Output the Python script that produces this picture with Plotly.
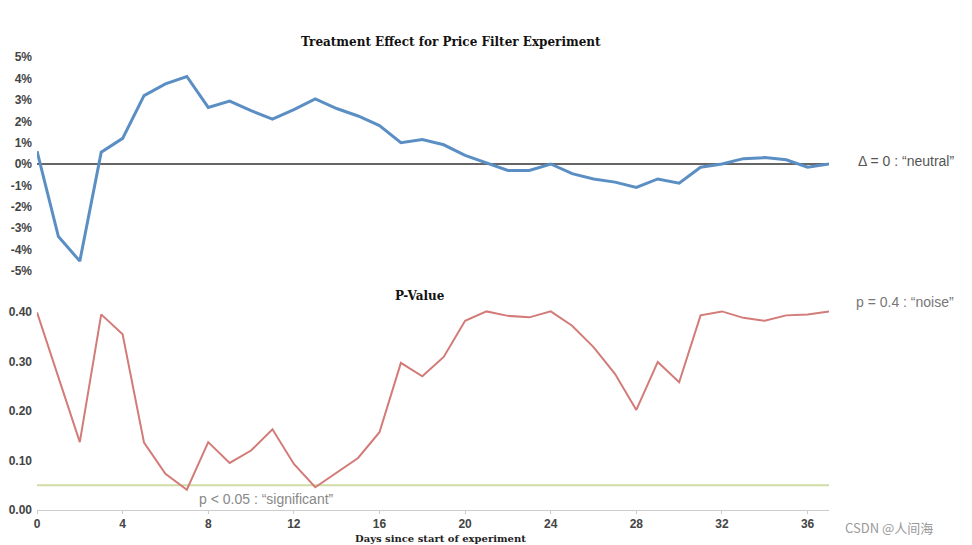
import plotly.graph_objects as go

days = list(range(38))
effect_pct = [0.6, -3.4, -4.55, 0.55, 1.2, 3.2, 3.75, 4.1, 2.65, 2.95,
              2.5, 2.1, 2.55, 3.05, 2.6, 2.25, 1.8, 1.0, 1.15, 0.9,
              0.4, 0.05, -0.3, -0.3, 0.0, -0.45, -0.7, -0.85, -1.1, -0.7,
              -0.9, -0.15, 0.0, 0.25, 0.3, 0.2, -0.15, 0.0]
p_values = [0.399, 0.268, 0.137, 0.395, 0.355, 0.136, 0.073, 0.041, 0.137, 0.095,
            0.12, 0.163, 0.093, 0.046, 0.075, 0.105, 0.157, 0.297, 0.27, 0.309,
            0.382, 0.401, 0.392, 0.389, 0.401, 0.372, 0.329, 0.275, 0.202, 0.299,
            0.258, 0.393, 0.401, 0.388, 0.382, 0.393, 0.395, 0.401]
effect_ticks = [-5, -4, -3, -2, -1, 0, 1, 2, 3, 4, 5]
p_ticks = [0.0, 0.1, 0.2, 0.3, 0.4]
day_ticks = [0, 4, 8, 12, 16, 20, 24, 28, 32, 36]
NEUTRAL = 0
SIGNIFICANT = 0.05
NOISE = 0.4

# the page body has an 8px margin; size the figure so it fits the 972x545 window
OFF = 8
W, H = 972 - OFF, 545 - OFF


def px(x):
    return (x - OFF) / W


def py(y):
    return (H - (y - OFF)) / H


fig = go.Figure()
fig.add_trace(go.Scatter(x=days, y=effect_pct, mode="lines",
                         line=dict(color="#5b8fc4", width=3), xaxis="x", yaxis="y",
                         showlegend=False))
fig.add_trace(go.Scatter(x=days, y=p_values, mode="lines",
                         line=dict(color="#d27b78", width=2), xaxis="x2", yaxis="y2",
                         showlegend=False))

# reference lines
fig.add_shape(type="line", xref="x", yref="y", x0=days[0], x1=days[-1], y0=NEUTRAL, y1=NEUTRAL,
              line=dict(color="#333333", width=1.5), layer="below")
fig.add_shape(type="line", xref="x2", yref="y2", x0=days[0], x1=days[-1], y0=SIGNIFICANT, y1=SIGNIFICANT,
              line=dict(color="#cfdca6", width=2), layer="below")

tickfont = dict(family="Liberation Sans", size=12, color="#444444", weight="bold")
fig.update_layout(
    width=W, height=H, margin=dict(l=0, r=0, t=0, b=0, autoexpand=False),
    paper_bgcolor="white", plot_bgcolor="white",
    xaxis=dict(domain=[px(37), px(829)], range=[0, 37], anchor="y", visible=False,
               showgrid=False, zeroline=False, automargin=False),
    yaxis=dict(domain=[py(275), py(53)], range=[-5.2, 5.2], anchor="x",
               tickvals=effect_ticks, ticktext=[f"{v}%" for v in effect_ticks],
               showgrid=False, zeroline=False, showline=False, tickfont=tickfont,
               ticklabelstandoff=4, automargin=False),
    xaxis2=dict(domain=[px(37), px(829)], range=[0, 37], anchor="y2",
                tickvals=day_ticks, showgrid=False, zeroline=False,
                showline=True, linecolor="#cccccc", linewidth=1,
                ticks="outside", ticklen=3, tickcolor="#cccccc", automargin=False,
                tickfont=tickfont),
    yaxis2=dict(domain=[py(510), py(302)], range=[0, 0.42], anchor="x2",
                tickvals=p_ticks, ticktext=[f"{v:.2f}" for v in p_ticks],
                showgrid=False, zeroline=False, showline=False, tickfont=tickfont,
                ticklabelstandoff=4, automargin=False),
)

anns = [
    dict(text="<b>Treatment Effect for Price Filter Experiment</b>", x=px(451), y=py(42),
         xref="paper", yref="paper", showarrow=False, xanchor="center", yanchor="middle",
         font=dict(family="DejaVu Serif", size=12, color="#111111")),
    dict(text="<b>P-Value</b>", x=px(420), y=py(296),
         xref="paper", yref="paper", showarrow=False, xanchor="center", yanchor="middle",
         font=dict(family="DejaVu Serif", size=12, color="#111111")),
    dict(text="<b>Days since start of experiment</b>", x=px(440), y=py(538),
         xref="paper", yref="paper", showarrow=False, xanchor="center", yanchor="middle",
         font=dict(family="DejaVu Serif", size=10, color="#222222")),
    dict(text="Δ = 0 : “neutral”", x=px(856), y=NEUTRAL, xref="paper", yref="y",
         showarrow=False, xanchor="left", yanchor="middle", yshift=3,
         font=dict(family="Liberation Sans", size=14, color="#555555")),
    dict(text="p = 0.4 : “noise”", x=px(854), y=NOISE, xref="paper", yref="y2",
         showarrow=False, xanchor="left", yanchor="middle", yshift=10,
         font=dict(family="Liberation Sans", size=14, color="#777777")),
    dict(text="p < 0.05 : “significant”", x=10.7, y=SIGNIFICANT, xref="x2", yref="y2",
         showarrow=False, xanchor="center", yanchor="middle", yshift=-14,
         font=dict(family="Liberation Sans", size=14, color="#888888")),
    dict(text="CSDN @人间海", x=px(843), y=py(527), xref="paper", yref="paper",
         showarrow=False, xanchor="left", yanchor="middle",
         font=dict(family="Noto Sans CJK SC", size=13, color="#999999")),
]
fig.update_layout(annotations=anns)

fig.write_html("out.html")
